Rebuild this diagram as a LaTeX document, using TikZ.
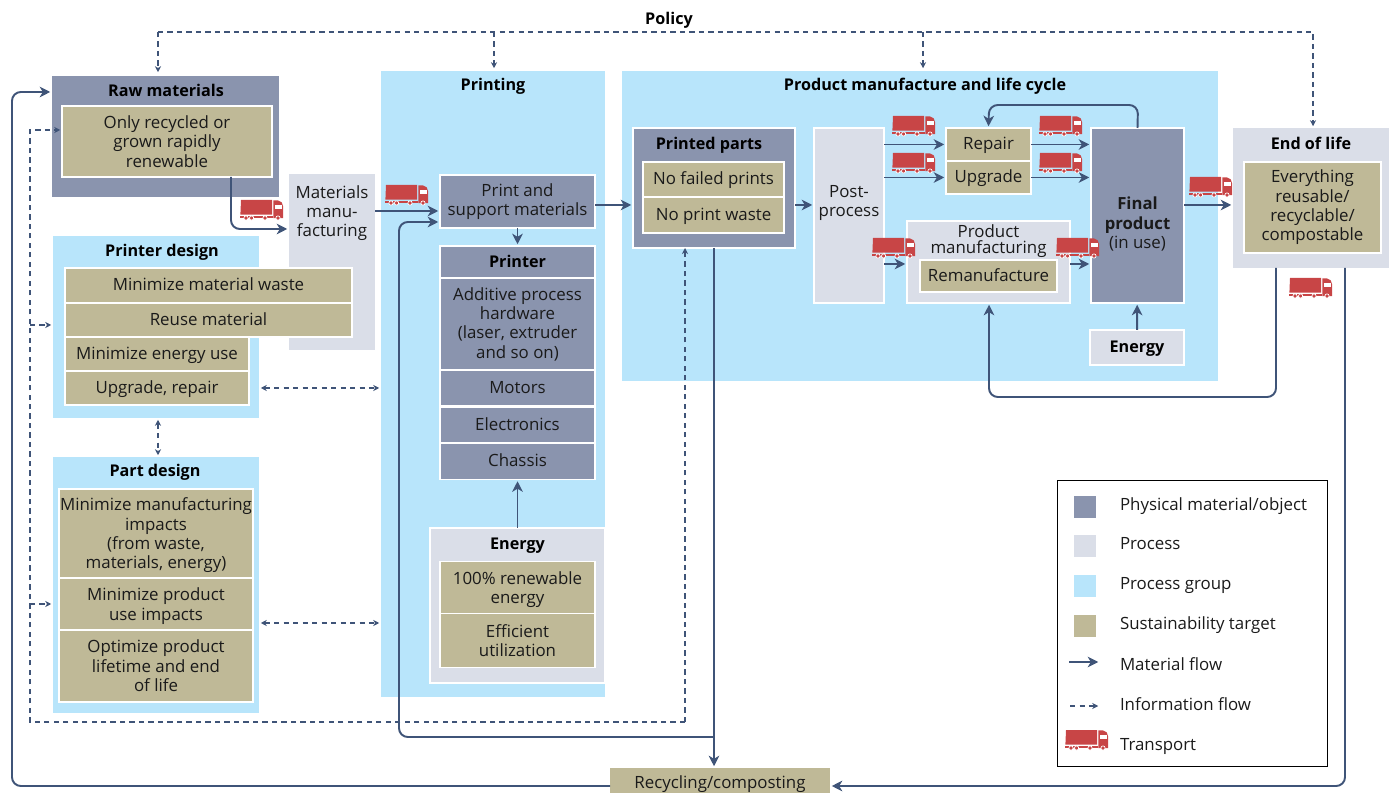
\documentclass[tikz,border=0pt]{standalone}
\usepackage{fontspec}
\setmainfont{Open Sans}
\usetikzlibrary{arrows.meta,positioning,calc}
\definecolor{slatebox}{HTML}{8A94AE}
\definecolor{procbox}{HTML}{DADEE8}
\definecolor{groupbox}{HTML}{B8E5FB}
\definecolor{targetbox}{HTML}{BFB997}
\definecolor{flowcol}{HTML}{3F5478}
\definecolor{truckcol}{HTML}{C84546}
\definecolor{textcol}{HTML}{1A1A1A}
\newcommand{\bodyfont}{\fontsize{9.6}{11}\selectfont}
\newcommand{\headfont}{\fontsize{9.2}{11}\selectfont\bfseries}
\tikzset{
  boxsize/.style 2 args={minimum width=#1*0.02cm,minimum height=#2*0.02cm},
  plain/.style={inner sep=0pt,outer sep=0pt,align=center,text=textcol,font=\bodyfont},
  oneline/.style={text height=7.8pt,text depth=1.6pt},
  title/.style={plain,oneline,font=\headfont,text=black},
  group/.style={plain,fill=groupbox},
  material/.style={plain,fill=slatebox,draw=white,line width=0.6pt},
  process/.style={plain,fill=procbox,draw=white,line width=0.6pt},
  target/.style={plain,fill=targetbox,draw=white,line width=0.6pt},
  flow/.style={draw=flowcol,line width=1.1pt,rounded corners=5pt,shorten >=1pt,-{Stealth[length=6pt,width=6pt,inset=1.8pt]}},
  info/.style={draw=flowcol,line width=0.6pt,dash pattern=on 3pt off 2.4pt,shorten >=1pt,-{Stealth[length=3.4pt,width=3.4pt,inset=1pt]}},
  infoboth/.style={info,shorten <=1pt,{Stealth[length=3.4pt,width=3.4pt,inset=1pt]}-{Stealth[length=3.4pt,width=3.4pt,inset=1pt]}},
  truck/.pic={
    \fill[truckcol] (1,0) -- (32,0) -- (32,14.6) -- (0.4,14.6) -- cycle;
    \fill[truckcol] (0,15.6) -- (33,15.6) -- (33,18.2) -- (0,18.2) -- cycle;
    \fill[truckcol] (33.4,0.4) -- (38,0.4) .. controls (41,0.8) and (43,3) .. (43,6) -- (43,18.2) -- (33.4,18.2) -- cycle;
    \fill[white] (35,5.4) rectangle (42.4,9.4);
    \draw[white,line width=0.4pt,fill=truckcol] (6,18) circle (2.1) (11.6,18) circle (2.1) (25,18) circle (2.1) (38,18) circle (2.1);
  }
}
\begin{document}
\begin{tikzpicture}[x=0.02cm,y=-0.02cm]
\useasboundingbox (0,0) rectangle (1393,793);
% process groups
\node[group,boxsize={224}{626}] (printing) at (493,384) {};
\node[group,boxsize={596}{310}] (lifecycle) at (920,226) {};
\node[group,boxsize={206}{182}] (printerdes) at (156,327) {};
\node[group,boxsize={206}{256}] (partdes) at (156,585) {};
\node[title] (printingt) at (493,85) {Printing};
\node[title] (lifecyclet) at (925,85) {Product manufacture and life cycle};
\node[title] (printerdest) at (162,251) {Printer design};
\node[title] (partdest) at (155,471) {Part design};
\node[title] (policy) at (669,19) {Policy};
% raw materials
\node[plain,fill=slatebox,boxsize={227}{121}] (rawmat) at (165.5,136.5) {};
\node[title] (rawmatt) at (166,91) {Raw materials};
\node[target,boxsize={210}{71}] (rawtgt) at (167,141.5) {Only recycled or\\grown rapidly\\renewable};
\node[plain,fill=procbox,boxsize={86}{176}] (matmfg) at (332,262) {};
\node[plain] (matmfgt) at (332,213) {Materials\\manu-\\facturing};
% printer design targets
\node[target,oneline,boxsize={287}{35}] (waste) at (208.5,285.5) {Minimize material waste};
\node[target,oneline,boxsize={287}{34}] (reuse) at (208.5,320) {Reuse material};
\node[target,oneline,boxsize={184}{34}] (enuse) at (157,354) {Minimize energy use};
\node[target,oneline,boxsize={184}{34}] (upgr) at (157,388) {Upgrade, repair};
% part design targets
\node[target,text depth=0pt,boxsize={194}{89}] (mfgimp) at (156,533.5) {Minimize manufacturing\\impacts\\(from waste,\\materials, energy)};
\node[target,text depth=0pt,boxsize={194}{52}] (useimp) at (156,604) {Minimize product\\use impacts};
\node[target,boxsize={194}{72}] (lifetime) at (156,666) {Optimize product\\lifetime and end\\of life};
% printing
\node[material,boxsize={155}{53}] (print) at (517.5,201.5) {Print and\\support materials};
\node[material,oneline,boxsize={155}{32},font=\headfont,text=black] (printer) at (517.5,262) {Printer};
\node[material,boxsize={155}{92}] (hardware) at (517.5,324) {Additive process\\hardware\\(laser, extruder\\and so on)};
\node[material,oneline,boxsize={155}{36}] (motors) at (517.5,388) {Motors};
\node[material,oneline,boxsize={155}{36}] (electro) at (517.5,425) {Electronics};
\node[material,oneline,boxsize={155}{36}] (chassis) at (517.5,461.5) {Chassis};
\node[process,boxsize={175}{155}] (energya) at (517.5,605.5) {};
\node[title] (energyat) at (517.5,544) {Energy};
\node[target,text depth=0pt,boxsize={155}{52}] (renew) at (517.5,587.5) {100\% renewable\\energy};
\node[target,boxsize={155}{54}] (effic) at (517.5,640.5) {Efficient\\utilization};
% product manufacture
\node[material,boxsize={162}{120}] (parts) at (714,188) {};
\node[title] (partst) at (709,144) {Printed parts};
\node[target,oneline,boxsize={141}{35}] (nofail) at (713.5,179.5) {No failed prints};
\node[target,oneline,boxsize={141}{36}] (nowaste) at (713.5,215) {No print waste};
\node[process,boxsize={70}{175}] (post) at (849,215.5) {};
\node[plain] (postt) at (849,203) {Post-\\process};
\node[target,oneline,boxsize={85}{33}] (repair) at (988.5,144.5) {Repair};
\node[target,oneline,boxsize={85}{33}] (upgrade) at (988.5,177.5) {Upgrade};
\node[process,boxsize={163}{82}] (prodmfg) at (988.5,262) {};
\node[plain,font=\fontsize{9.6}{9}\selectfont] (prodmfgt) at (988.5,241) {Product\\manufacturing};
\node[target,oneline,boxsize={137}{32}] (reman) at (988.5,276) {Remanufacture};
\node[material,boxsize={93}{175}] (final) at (1137.5,215.5) {};
\node[plain] (finalt) at (1137.5,224) {{\fontsize{9.5}{11}\selectfont\bfseries Final}\\{\fontsize{9.5}{11}\selectfont\bfseries product}\\(in use)};
\node[process,oneline,boxsize={94}{35},font=\headfont,text=black] (energyb) at (1137,347.5) {Energy};
% end of life
\node[plain,fill=procbox,boxsize={156}{140}] (eol) at (1311,198) {};
\node[title] (eolt) at (1311,144) {End of life};
\node[target,boxsize={137}{91}] (eoltgt) at (1312.5,207.5) {Everything\\reusable/\\recyclable/\\compostable};
\node[target,draw=none,boxsize={220}{34}] (recycle) at (720,785) {};
\node[plain,oneline] (recyclet) at (720,783) {Recycling/composting};
% material flows
\coordinate (loopstart) at (parts.south |- 0,737);
\draw[flow] (rawtgt.south -| 231,0) -- (231,229) -- (matmfg.west |- 0,229);
\draw[flow] (matmfg.east |- 0,211) -- (print.west |- 0,211);
\draw[flow] (loopstart) -- (399,737) -- (399,222) -- (print.west |- 0,222);
\draw[flow] (parts.south) -- (recycle.north -| parts.south);
\draw[flow] (print) -- (printer);
\draw[flow] (energya.north -| chassis) -- (chassis);
\draw[flow] (print.east |- 0,205) -- (parts.west |- 0,205);
\draw[flow] (parts.east |- 0,205) -- (post.west |- 0,205);
\draw[flow] (post.east |- repair) -- (repair);
\draw[flow] (post.east |- upgrade) -- (upgrade);
\draw[flow] (post.east |- 0,264) -- (prodmfg.west |- 0,264);
\draw[flow] (repair) -- (final.west |- repair);
\draw[flow] (upgrade) -- (final.west |- upgrade);
\draw[flow] (prodmfg.east |- 0,264) -- (final.west |- 0,264);
\draw[flow] (final.north) -- (1138,105) -- (989,105) -- (repair.north);
\draw[flow] (energyb) -- (final);
\draw[flow] (final.east |- 0,205) -- (eol.west |- 0,205);
\draw[flow] (1276,268) -- (1276,397) -- (989,397) -- (prodmfg.south -| 989,0);
\draw[flow] (1345,268) -- (1345,786) -- (recycle.east |- 0,786);
\draw[flow] (recycle.west |- 0,786) -- (12,786) -- (12,92) -- (rawmat.west |- 0,92);
% information flows
\draw[info] (158,32) -- (158,74);
\draw[info] (494,32) -- (494,70);
\draw[info] (923,32) -- (923,70);
\draw[info] (158,32) -- (1313,32) -- (eol.north -| 1313,0);
\draw[info,shorten >=0pt] (685,722) -- (parts.south -| 685,0);
\draw[info] (685,722) -- (30,722) -- (30,130) -- (rawtgt.west |- 0,130);
\draw[info] (30,325) -- (printerdes.west |- 0,325);
\draw[info] (30,604) -- (partdes.west |- 0,604);
\draw[infoboth] (printerdes.east |- 0,388) -- (printing.west |- 0,388);
\draw[infoboth] (partdes.east |- 0,623) -- (printing.west |- 0,623);
\draw[infoboth] (printerdes.south -| 158,0) -- (partdes.north -| 158,0);
% trucks
\foreach \tx/\ty in {240/200,385/185,892/116,1039/116,892/153,1039/153,872/238,1056/238,1189/177,1289/278,1065/730}
  \pic at (\tx,\ty) {truck};
% legend
\node[plain,draw=black,line width=0.5pt,boxsize={270}{286}] (legend) at (1192,623) {};
\foreach \ly/\lcol/\ltxt/\lname in {507/slatebox/Physical material\slash object/la,546/procbox/Process/lb,586/groupbox/Process group/lc,626/targetbox/Sustainability target/ld}{
  \node[plain,fill=\lcol,boxsize={22}{22}] (\lname) at (1085,\ly) {};
  \node[plain,oneline,anchor=west] (\lname t) at (1120,\ly-1.5) {\ltxt};
}
\node[plain,oneline,anchor=west] (le) at (1120,665) {Material flow};
\node[plain,oneline,anchor=west] (lf) at (1120,705) {Information flow};
\node[plain,oneline,anchor=west] (lg) at (1120,745) {Transport};
\coordinate (lea) at (1069,662);
\coordinate (leb) at (1100,662);
\coordinate (lfa) at (1070,706);
\coordinate (lfb) at (1100,706);
\draw[flow,line width=0.9pt] (lea) -- (leb);
\draw[info] (lfa) -- (lfb);
\end{tikzpicture}
\end{document}
